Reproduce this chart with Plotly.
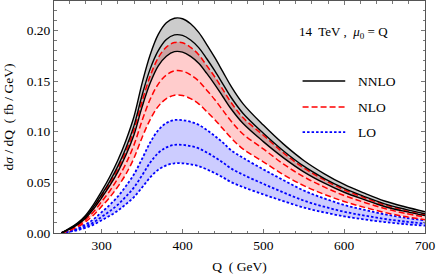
import plotly.graph_objects as go

Q = [250, 260, 270, 280, 290, 300, 310, 320, 330, 340, 350, 360, 370, 380, 390, 400,
     410, 420, 430, 440, 450, 460, 475, 500, 525, 550, 575, 600, 625, 650, 675, 700]

nnlo_c = [0.000, 0.004, 0.009, 0.016, 0.026, 0.038, 0.051, 0.066, 0.084, 0.106, 0.136, 0.162,
          0.180, 0.191, 0.1955, 0.195, 0.1905, 0.183, 0.172, 0.160, 0.147, 0.134, 0.118, 0.0985,
          0.081, 0.066, 0.054, 0.044, 0.036, 0.0288, 0.0235, 0.019]
nnlo_hi = [0.000, 0.0045, 0.0098, 0.0174, 0.0283, 0.0413, 0.0555, 0.0718, 0.0914, 0.115, 0.148, 0.176,
           0.196, 0.2075, 0.212, 0.2115, 0.2065, 0.198, 0.186, 0.173, 0.159, 0.145, 0.1275, 0.1065,
           0.0877, 0.0716, 0.0587, 0.0479, 0.0393, 0.0316, 0.0259, 0.0210]
nnlo_lo = [0.000, 0.0037, 0.0082, 0.0146, 0.0238, 0.0348, 0.0467, 0.0604, 0.0769, 0.0970, 0.1245, 0.148,
           0.165, 0.1745, 0.179, 0.1785, 0.1743, 0.1675, 0.1575, 0.1465, 0.1345, 0.1226, 0.108, 0.0902,
           0.0742, 0.0604, 0.0494, 0.0402, 0.0329, 0.0262, 0.0213, 0.0171]

nlo_c = [0.000, 0.003, 0.007, 0.013, 0.021, 0.031, 0.0415, 0.054, 0.0685, 0.087, 0.111, 0.132,
         0.147, 0.156, 0.160, 0.1598, 0.156, 0.150, 0.141, 0.1315, 0.121, 0.1105, 0.0975, 0.083,
         0.068, 0.0555, 0.0455, 0.037, 0.0302, 0.0242, 0.0195, 0.0157]
nlo_hi = [0.000, 0.0036, 0.0083, 0.0153, 0.0247, 0.0364, 0.0488, 0.0634, 0.0804, 0.102, 0.130, 0.155,
          0.173, 0.1835, 0.188, 0.1878, 0.1832, 0.176, 0.1652, 0.154, 0.1415, 0.129, 0.1137, 0.0965,
          0.079, 0.0643, 0.0526, 0.0427, 0.0348, 0.0278, 0.0223, 0.0179]
nlo_lo = [0.000, 0.0025, 0.0059, 0.011, 0.0178, 0.0263, 0.0352, 0.0458, 0.0582, 0.074, 0.0943, 0.112,
          0.125, 0.1326, 0.136, 0.1358, 0.1326, 0.1275, 0.1198, 0.1118, 0.1028, 0.0939, 0.0828, 0.0703,
          0.0575, 0.0468, 0.0383, 0.0311, 0.0253, 0.0203, 0.0163, 0.0131]

lo_c = [0.000, 0.0015, 0.0035, 0.0065, 0.0105, 0.016, 0.0215, 0.028, 0.036, 0.045, 0.057, 0.0695,
        0.079, 0.0845, 0.087, 0.087, 0.0858, 0.0835, 0.0795, 0.0748, 0.0695, 0.0637, 0.0575, 0.0485,
        0.040, 0.032, 0.026, 0.021, 0.0172, 0.0139, 0.0113, 0.0093]
lo_hi = [0.000, 0.0019, 0.0045, 0.0084, 0.0136, 0.0206, 0.0277, 0.036, 0.0463, 0.058, 0.0733, 0.0893,
         0.1015, 0.1085, 0.1115, 0.1114, 0.1098, 0.1068, 0.1017, 0.0958, 0.0892, 0.0818, 0.0741, 0.0628,
         0.0521, 0.0419, 0.0342, 0.0277, 0.0228, 0.0185, 0.0151, 0.0125]
lo_lo = [0.000, 0.0012, 0.0028, 0.0051, 0.0083, 0.0126, 0.017, 0.0221, 0.0284, 0.0355, 0.045, 0.0549,
         0.0624, 0.0667, 0.0688, 0.0688, 0.0678, 0.066, 0.0628, 0.0591, 0.0549, 0.0503, 0.0453, 0.0381,
         0.0314, 0.0251, 0.0204, 0.0164, 0.0134, 0.0108, 0.0088, 0.0072]

x_ticks = [300, 400, 500, 600, 700]
y_ticks = [0.00, 0.05, 0.10, 0.15, 0.20]
y_tick_text = ["0.00", "0.05", "0.10", "0.15", "0.20"]

legend_names = ["NNLO", "NLO", "LO"]
legend_colors = ["black", "#ff0000", "#0000ff"]
legend_dash = ["solid", "6px,3px", "2.5px,2px"]

FONT = "Liberation Serif, Times New Roman, serif"

fig = go.Figure()

def band(lo, hi, fill):
    fig.add_trace(go.Scatter(x=Q, y=lo, mode="lines", line=dict(width=0, shape="spline"),
                             hoverinfo="skip", showlegend=False))
    fig.add_trace(go.Scatter(x=Q, y=hi, mode="lines", line=dict(width=0, shape="spline"),
                             fill="tonexty", fillcolor=fill, hoverinfo="skip", showlegend=False))

band(lo_lo, lo_hi, "rgba(0,0,255,0.2)")
band(nlo_lo, nlo_hi, "rgba(255,0,0,0.2)")
band(nnlo_lo, nnlo_hi, "rgba(0,0,0,0.2)")

def line(y, color, dash, width):
    fig.add_trace(go.Scatter(x=Q, y=y, mode="lines", showlegend=False, hoverinfo="skip",
                             line=dict(color=color, dash=dash, width=width, shape="spline")))

for y in (lo_lo, lo_c, lo_hi):
    line(y, legend_colors[2], legend_dash[2], 1.8)
for y in (nlo_lo, nlo_c, nlo_hi):
    line(y, legend_colors[1], legend_dash[1], 1.5)
for y in (nnlo_lo, nnlo_c, nnlo_hi):
    line(y, legend_colors[0], legend_dash[0], 1.4)

# custom legend (positions in paper coordinates)
leg_y = [0.655, 0.543, 0.435]
for name, col, dash, yy in zip(legend_names, legend_colors, legend_dash, leg_y):
    fig.add_shape(type="line", xref="paper", yref="paper", x0=0.67, x1=0.785, y0=yy, y1=yy,
                  line=dict(color=col, dash=dash, width=1.6 if name != "LO" else 1.8))
    fig.add_annotation(text=name, xref="paper", yref="paper", x=0.815, y=yy, xanchor="left",
                       yanchor="middle", showarrow=False, font=dict(family=FONT, size=13.5, color="black"))

fig.add_annotation(text="14  TeV ,  <i>μ</i><sub>0</sub> = Q", xref="paper", yref="paper", x=0.905, y=0.865,
                   xanchor="right", yanchor="middle", showarrow=False,
                   font=dict(family=FONT, size=13, color="black"))

axis_common = dict(showline=True, linecolor="#555555", linewidth=1, mirror="allticks",
                   ticks="inside", tickcolor="#777777", ticklen=4, showgrid=False, zeroline=False,
                   automargin=False, tickfont=dict(family=FONT, size=13.5, color="black"))

fig.update_xaxes(range=[241, 700], tickvals=x_ticks, ticktext=[str(v) for v in x_ticks],
                 minor=dict(ticks="inside", ticklen=2.5, tickcolor="#777777", dtick=20, tick0=240),
                 title=dict(text="Q  ( GeV)", font=dict(family=FONT, size=13.5, color="black"), standoff=9),
                 **axis_common)
fig.update_yaxes(range=[0, 0.229], tickvals=y_ticks, ticktext=y_tick_text,
                 minor=dict(ticks="inside", ticklen=2.5, tickcolor="#777777", dtick=0.01, tick0=0),
                 title=dict(text="d<i>σ</i> / dQ  ( fb / GeV)", font=dict(family=FONT, size=13.5, color="black"),
                            standoff=9),
                 **axis_common)

fig.update_layout(width=436, height=277, margin=dict(l=54, r=11, t=1, b=44),
                  paper_bgcolor="white", plot_bgcolor="white", showlegend=False,
                  font=dict(family=FONT, size=13, color="black"))

fig.write_html("out.html", config={"displayModeBar": False},
               post_script="document.body.style.margin='0';document.body.style.padding='0';")
